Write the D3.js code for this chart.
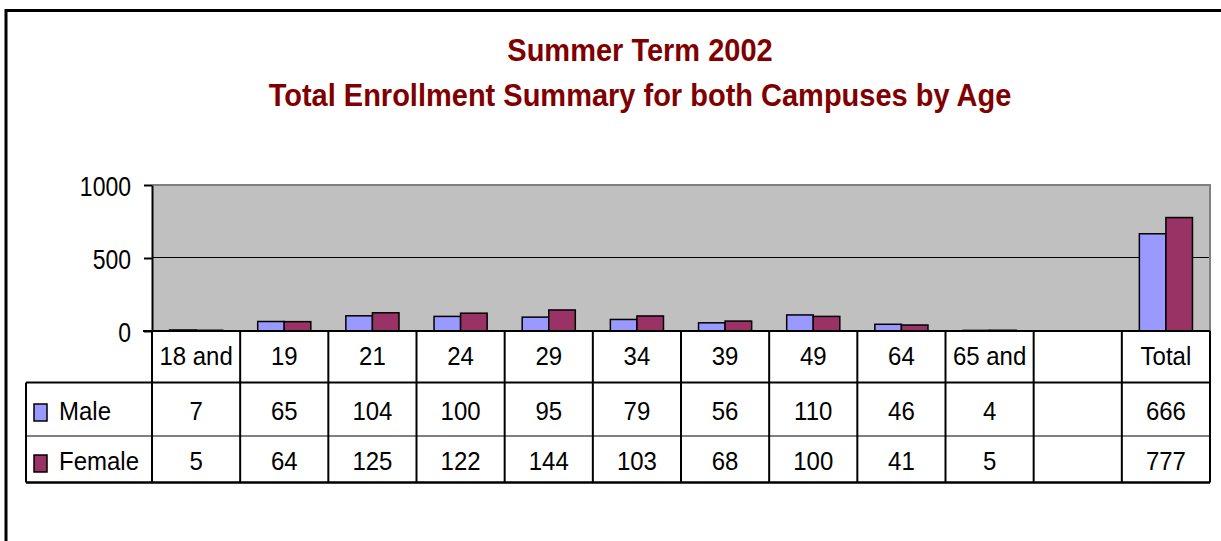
<!DOCTYPE html>
<html>
<head>
<meta charset="utf-8">
<script src="https://cdn.jsdelivr.net/npm/d3@7"></script>
<style>
  body { margin: 0; background: #fff; }
  text { font-family: "Liberation Sans", Arial, sans-serif; }
</style>
</head>
<body>
<div id="plot"></div>
<script>
// Chart data
const categories = ["18 and", "19", "21", "24", "29", "34", "39", "49", "64", "65 and", "", "Total"];
const seriesNames = ["Male", "Female"];
const maleValues = [7, 65, 104, 100, 95, 79, 56, 110, 46, 4, null, 666];
const femaleValues = [5, 64, 125, 122, 144, 103, 68, 100, 41, 5, null, 777];
const yTicks = [0, 500, 1000];
const titleLines = ["Summer Term 2002", "Total Enrollment Summary for both Campuses by Age"];

const colors = { Male: "#9999FF", Female: "#993366" };
const W = 1221, H = 541;

const svg = d3.select("#plot").append("svg")
    .attr("width", W)
    .attr("height", H);

// Outer chart frame (runs off the right and bottom edges)
svg.append("rect")
    .attr("x", 6).attr("y", 10.5)
    .attr("width", 1240).attr("height", 600)
    .attr("fill", "none").attr("stroke", "#000").attr("stroke-width", 3);

// Title
svg.selectAll(".title")
    .data(titleLines)
    .enter().append("text")
    .attr("transform", (d, i) => `translate(640,${61 + i * 45}) scale(1,1.09)`)
    .attr("text-anchor", "middle")
    .style("font-size", "29px")
    .style("font-weight", "bold")
    .style("fill", "#800000")
    .text(d => d);

// Plot area
const plot = { left: 152, right: 1210, top: 185, bottom: 331 };

const x0 = d3.scaleBand()
    .domain(d3.range(categories.length))
    .range([plot.left, plot.right])
    .padding(0);

const x1 = d3.scaleBand()
    .domain(seriesNames)
    .range([0, x0.bandwidth()])
    .paddingInner(0)
    .paddingOuter(0.66);

const y = d3.scaleLinear()
    .domain([0, 1000])
    .range([plot.bottom, plot.top]);

svg.append("rect")
    .attr("x", plot.left).attr("y", plot.top)
    .attr("width", plot.right - plot.left).attr("height", plot.bottom - plot.top)
    .attr("fill", "#C0C0C0");

// gridline at 500
svg.selectAll(".grid")
    .data(yTicks.filter(t => t > 0 && t < 1000))
    .enter().append("line")
    .attr("x1", plot.left).attr("x2", plot.right)
    .attr("y1", d => Math.round(y(d)) - 0.5).attr("y2", d => Math.round(y(d)) - 0.5)
    .attr("stroke", "#000").attr("stroke-width", 1);

// top / right plot border
svg.append("path")
    .attr("d", `M${plot.left},${plot.top}H${plot.right}V${plot.bottom}`)
    .attr("fill", "none").attr("stroke", "#808080").attr("stroke-width", 2);

// bars
const rows = [maleValues, femaleValues];
const groups = svg.selectAll(".grp")
    .data(categories.map((c, i) => i))
    .enter().append("g")
    .attr("transform", i => `translate(${x0(i)},0)`);

groups.selectAll("rect")
    .data(i => seriesNames.map((s, k) => ({ s, v: rows[k][i] })).filter(d => d.v != null))
    .enter().append("rect")
    .attr("x", d => x1(d.s))
    .attr("y", d => y(d.v))
    .attr("width", x1.bandwidth())
    .attr("height", d => y(0) - y(d.v))
    .attr("fill", d => colors[d.s])
    .attr("stroke", "#000")
    .attr("stroke-width", 1.5);

// y axis
const yAxis = svg.append("g")
    .attr("transform", `translate(${plot.left},0)`)
    .call(d3.axisLeft(y).tickValues(yTicks).tickFormat(d3.format("d"))
        .tickSize(8).tickSizeOuter(0));
yAxis.select(".domain").attr("stroke", "#000").attr("stroke-width", 2);
yAxis.selectAll(".tick line").attr("stroke", "#000").attr("stroke-width", 2);
yAxis.selectAll(".tick text")
    .attr("x", null).attr("dy", null)
    .attr("transform", "translate(-21,10) scale(1,1.22)")
    .style("font-size", "23px")
    .style("font-family", "'Liberation Sans', Arial, sans-serif")
    .style("fill", "#000");

// Data table
const table = { left: 26, headerBottom: 382.5, rowMid: 436, bottom: 482.5 };
const stretch = "scale(1,1.1)";

// header row labels
svg.selectAll(".cat")
    .data(categories)
    .enter().append("text")
    .attr("transform", (d, i) => `translate(${x0(i) + x0.bandwidth() / 2},365) ${stretch}`)
    .attr("text-anchor", "middle")
    .style("font-size", "24px")
    .text(d => d);

// value rows
const rowY = [420, 469.5];
rows.forEach((vals, k) => {
    svg.selectAll(".val" + k)
        .data(vals)
        .enter().append("text")
        .attr("transform", (d, i) => `translate(${x0(i) + x0.bandwidth() / 2},${rowY[k]}) ${stretch}`)
        .attr("text-anchor", "middle")
        .style("font-size", "24px")
        .text(d => d == null ? "" : d);
});

// legend keys + names
const keyY = [404, 455];
seriesNames.forEach((s, k) => {
    svg.append("rect")
        .attr("x", 34).attr("y", keyY[k])
        .attr("width", 13).attr("height", 17)
        .attr("fill", colors[s]).attr("stroke", "#000").attr("stroke-width", 1.5);
    svg.append("text")
        .attr("transform", `translate(59,${rowY[k]}) ${stretch}`)
        .style("font-size", "24px")
        .text(s);
});

// table grid lines
const vlines = d3.range(categories.length + 1).map(i => i < categories.length ? x0(i) : plot.right);
svg.selectAll(".vl")
    .data(vlines)
    .enter().append("line")
    .attr("x1", d => d).attr("x2", d => d)
    .attr("y1", plot.bottom).attr("y2", table.bottom)
    .attr("stroke", "#000").attr("stroke-width", 2);

svg.append("line")
    .attr("x1", table.left).attr("x2", table.left)
    .attr("y1", table.headerBottom).attr("y2", table.bottom)
    .attr("stroke", "#000").attr("stroke-width", 2);

[[table.headerBottom, 2], [table.rowMid, 1], [table.bottom, 2.5]].forEach(([yy, w]) => {
    svg.append("line")
        .attr("x1", table.left).attr("x2", plot.right)
        .attr("y1", yy).attr("y2", yy)
        .attr("stroke", "#000").attr("stroke-width", w);
});

// header row top (category axis)
svg.append("line")
    .attr("x1", plot.left - 9).attr("x2", plot.right)
    .attr("y1", plot.bottom).attr("y2", plot.bottom)
    .attr("stroke", "#000").attr("stroke-width", 2);
</script>
</body>
</html>
